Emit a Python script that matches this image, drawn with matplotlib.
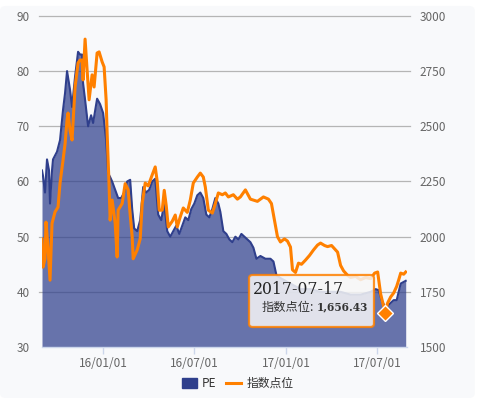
import matplotlib
matplotlib.use('Agg')
import matplotlib.pyplot as plt
from matplotlib.patches import FancyBboxPatch, Patch
from matplotlib.lines import Line2D
import pandas as pd

plt.rcParams['font.family'] = ['Noto Sans CJK SC', 'DejaVu Sans']

# ---------------- data ----------------
pe_dates = [
    '2015-09-01', '2015-09-03', '2015-09-07', '2015-09-11', '2015-09-15', '2015-09-17',
    '2015-09-21', '2015-09-23', '2015-10-01', '2015-10-07', '2015-10-13', '2015-10-17',
    '2015-10-21', '2015-10-27', '2015-10-31', '2015-11-06', '2015-11-12', '2015-11-16',
    '2015-11-20', '2015-11-22', '2015-11-26', '2015-12-02', '2015-12-08', '2015-12-12',
    '2015-12-20', '2015-12-26', '2016-01-01', '2016-01-07', '2016-01-11', '2016-01-15',
    '2016-01-19', '2016-01-25', '2016-01-31', '2016-02-06', '2016-02-12', '2016-02-18',
    '2016-02-24', '2016-02-28', '2016-03-03', '2016-03-09', '2016-03-15', '2016-03-21',
    '2016-03-27', '2016-04-02', '2016-04-08', '2016-04-14', '2016-04-20', '2016-04-26',
    '2016-05-02', '2016-05-08', '2016-05-14', '2016-05-20', '2016-05-26', '2016-06-01',
    '2016-06-07', '2016-06-13', '2016-06-19', '2016-06-25', '2016-07-01', '2016-07-07',
    '2016-07-13', '2016-07-19', '2016-07-25', '2016-07-31', '2016-08-06', '2016-08-12',
    '2016-08-18', '2016-08-22', '2016-08-28', '2016-09-03', '2016-09-09', '2016-09-15',
    '2016-09-21', '2016-09-27', '2016-10-03', '2016-10-09', '2016-10-15', '2016-10-21',
    '2016-10-27', '2016-11-02', '2016-11-10', '2016-11-20', '2016-11-30', '2016-12-06',
    '2016-12-12', '2016-12-20', '2016-12-30', '2017-01-09', '2017-01-19', '2017-01-29',
    '2017-02-18', '2017-03-10', '2017-03-30', '2017-04-19', '2017-05-09', '2017-05-29',
    '2017-06-18', '2017-06-28', '2017-07-04', '2017-07-10', '2017-07-17', '2017-07-22',
    '2017-07-28', '2017-08-03', '2017-08-09', '2017-08-13', '2017-08-17', '2017-08-23',
    '2017-08-27',
]
pe_values = [
    62.0, 61.0, 58.0, 64.0, 62.0, 56.0,
    62.0, 64.0, 65.4, 67.5, 73.0, 76.0,
    80.0, 76.6, 73.5, 79.0, 83.5, 83.0,
    83.0, 77.8, 74.8, 70.0, 72.0, 70.6,
    75.0, 74.0, 72.4, 67.5, 61.5, 60.8,
    60.0, 58.5, 57.0, 57.0, 58.0, 60.0,
    60.3, 55.0, 51.5, 51.0, 53.0, 59.0,
    58.0, 58.5, 60.0, 60.5, 54.0, 53.0,
    56.0, 51.0, 50.0, 51.0, 52.0, 50.5,
    52.0, 53.5, 53.0, 55.0, 56.0, 57.5,
    58.0, 57.0, 54.0, 53.5, 55.0, 57.0,
    56.0, 54.5, 51.0, 50.5, 49.5, 49.0,
    50.0, 49.5, 50.5, 50.0, 49.5, 49.0,
    48.0, 46.0, 46.5, 46.0, 46.0, 45.5,
    43.0, 42.5, 42.0, 41.5, 41.0, 40.5,
    40.5, 40.0, 40.0, 40.0, 39.5, 39.5,
    40.0, 40.5, 40.3, 38.5, 37.2, 37.5,
    38.0, 38.5, 38.5, 40.0, 41.5, 41.8,
    42.0,
]

idx_dates = [
    '2015-09-01', '2015-09-03', '2015-09-07', '2015-09-09', '2015-09-13', '2015-09-17',
    '2015-09-21', '2015-09-27', '2015-10-03', '2015-10-07', '2015-10-13', '2015-10-17',
    '2015-10-21', '2015-10-23', '2015-10-27', '2015-10-31', '2015-11-06', '2015-11-12',
    '2015-11-16', '2015-11-20', '2015-11-22', '2015-11-26', '2015-11-30', '2015-12-04',
    '2015-12-10', '2015-12-14', '2015-12-20', '2015-12-24', '2015-12-30', '2016-01-03',
    '2016-01-07', '2016-01-09', '2016-01-13', '2016-01-15', '2016-01-19', '2016-01-25',
    '2016-01-29', '2016-01-31', '2016-02-08', '2016-02-14', '2016-02-20', '2016-02-24',
    '2016-02-28', '2016-03-01', '2016-03-05', '2016-03-09', '2016-03-15', '2016-03-19',
    '2016-03-25', '2016-03-31', '2016-04-08', '2016-04-14', '2016-04-18', '2016-04-22',
    '2016-04-28', '2016-05-02', '2016-05-06', '2016-05-10', '2016-05-18', '2016-05-24',
    '2016-05-28', '2016-06-03', '2016-06-09', '2016-06-17', '2016-06-23', '2016-06-29',
    '2016-07-07', '2016-07-13', '2016-07-19', '2016-07-23', '2016-07-29', '2016-08-06',
    '2016-08-12', '2016-08-18', '2016-08-26', '2016-09-01', '2016-09-07', '2016-09-17',
    '2016-09-25', '2016-10-01', '2016-10-11', '2016-10-21', '2016-11-04', '2016-11-16',
    '2016-11-26', '2016-12-02', '2016-12-08', '2016-12-14', '2016-12-20', '2016-12-28',
    '2017-01-03', '2017-01-09', '2017-01-13', '2017-01-19', '2017-01-25', '2017-01-31',
    '2017-02-08', '2017-02-16', '2017-02-24', '2017-03-04', '2017-03-10', '2017-03-18',
    '2017-03-24', '2017-04-01', '2017-04-07', '2017-04-13', '2017-04-19', '2017-04-25',
    '2017-05-03', '2017-05-09', '2017-05-19', '2017-05-29', '2017-06-08', '2017-06-18',
    '2017-06-26', '2017-07-02', '2017-07-08', '2017-07-17', '2017-07-22', '2017-07-28',
    '2017-08-03', '2017-08-09', '2017-08-13', '2017-08-17', '2017-08-23', '2017-08-27',
]
idx_values = [
    1990, 1862, 1900, 2066, 1950, 1803,
    2060, 2112, 2134, 2243, 2347, 2420,
    2529, 2560, 2480, 2438, 2678, 2787,
    2800, 2800, 2710, 2895, 2755, 2620,
    2733, 2678, 2832, 2837, 2792, 2769,
    2620, 2470, 2225, 2075, 2166, 2062,
    1908, 2120, 2150, 2240, 2212, 2100,
    2000, 1900, 1920, 1940, 1990, 2150,
    2243, 2230, 2280, 2316, 2250, 2120,
    2120, 2210, 2140, 2044, 2070, 2098,
    2044, 2090, 2130, 2110, 2166, 2243,
    2270, 2288, 2270, 2225, 2120, 2107,
    2150, 2198, 2190, 2198, 2180, 2190,
    2170, 2180, 2212, 2170, 2160, 2180,
    2170, 2150, 2075, 2000, 1976, 1990,
    1980, 1953, 1850, 1838, 1880, 1875,
    1894, 1915, 1940, 1962, 1971, 1960,
    1955, 1960, 1945, 1930, 1870, 1845,
    1825, 1815, 1820, 1805, 1815, 1810,
    1835, 1840, 1740, 1656.43, 1700, 1727,
    1745, 1775, 1804, 1835, 1830, 1840,
]

series_names = ['PE', '指数点位']
tooltip_date = '2017-07-17'
tick_dates = ['2016-01-01', '2016-07-01', '2017-01-01', '2017-07-01']
tick_labels = ['16/01/01', '16/07/01', '17/01/01', '17/07/01']
left_ticks = [30, 40, 50, 60, 70, 80, 90]
right_ticks = [1500, 1750, 2000, 2250, 2500, 2750, 3000]

# ---------------- styles ----------------
NAVY = '#2f3f8c'
ORANGE = '#ff8000'
GRID = '#b5b5b5'
LABEL = '#666666'
BG = '#f8f9fb'

pe_x = pd.to_datetime(pe_dates)
idx_x = pd.to_datetime(idx_dates)

fig = plt.figure(figsize=(4.85, 3.98), dpi=100)
fig.patch.set_facecolor('white')
panel = FancyBboxPatch((0.0, 0.0), 0.979, 0.985,
                       boxstyle='round,pad=0,rounding_size=0.012',
                       transform=fig.transFigure, facecolor=BG,
                       edgecolor='none', zorder=-10)
fig.patches.append(panel)

ax = fig.add_axes([0.0866, 0.128, 0.753, 0.832])
ax.set_facecolor('none')
ax2 = ax.twinx()
ax2.set_facecolor('none')

# grid lines
for v in left_ticks[1:]:
    ax.axhline(v, xmin=-0.008, xmax=1.008, color=GRID, lw=0.9, zorder=0, clip_on=False)

# PE area
ax.fill_between(pe_x, pe_values, left_ticks[0], color=NAVY, alpha=0.72, lw=0, zorder=2)
ax.plot(pe_x, pe_values, color=NAVY, lw=1.5, zorder=3)

# index line
ax2.plot(idx_x, idx_values, color=ORANGE, lw=2.2, zorder=3, solid_joinstyle='round')
ti = idx_dates.index(tooltip_date)
ax2.plot([idx_x[ti]], [idx_values[ti]], marker='D', ms=8.5, mfc=ORANGE,
         mec='white', mew=1.0, zorder=5, clip_on=False)

# axes limits
xmin = pe_x[0]
xmax = pe_x[-1] + pd.Timedelta(days=3)
ax.set_xlim(xmin, xmax)
ax.set_ylim(left_ticks[0], left_ticks[-1])
ax2.set_ylim(right_ticks[0], right_ticks[-1])

ax.set_yticks(left_ticks)
ax2.set_yticks(right_ticks)
ax.set_xticks(pd.to_datetime(tick_dates))
ax.set_xticklabels(tick_labels)

for a in (ax, ax2):
    for s in ('top', 'left', 'right', 'bottom'):
        a.spines[s].set_visible(False)
ax.spines['bottom'].set_visible(True)
ax.spines['bottom'].set_color('#ccd6eb')
ax.spines['bottom'].set_linewidth(1.0)

ax.tick_params(axis='y', length=0, pad=9, labelsize=8.5, labelcolor=LABEL)
ax2.tick_params(axis='y', length=0, pad=9, labelsize=8.5, labelcolor=LABEL)
ax.tick_params(axis='x', length=5, width=1, color='#ccd6eb', pad=2,
               labelsize=8.5, labelcolor=LABEL)

# legend
handles = [Patch(facecolor=NAVY, edgecolor=NAVY, joinstyle='round'),
           Line2D([0], [0], color=ORANGE, lw=2.2)]
leg = fig.legend(handles, series_names, loc='center', bbox_to_anchor=(0.49, 0.036),
                 ncol=2, frameon=False, fontsize=8.5, handlelength=1.3,
                 handleheight=0.9, handletextpad=0.4, columnspacing=0.8)
for t in leg.get_texts():
    t.set_color('#333333')

# tooltip
tip = FancyBboxPatch((0.5134, 0.1784), 0.2577, 0.1307,
                     boxstyle='round,pad=0,rounding_size=0.008',
                     transform=fig.transFigure, facecolor='#f7f7f7', alpha=0.85,
                     edgecolor=ORANGE, lw=1.6, zorder=10)
fig.patches.append(tip)
fig.text(0.5216, 0.2714, tooltip_date, family='DejaVu Serif', fontsize=11.3,
         color='#222222', va='center', ha='left', zorder=11)
fig.text(0.540, 0.2286, series_names[1] + ':', fontsize=8.8, color='#333333',
         va='center', ha='left', zorder=11)
fig.text(0.653, 0.2286, f'{idx_values[ti]:,.2f}', family='DejaVu Serif',
         fontweight='bold', fontsize=7.6, color='#333333', va='center',
         ha='left', zorder=11)

fig.savefig('out.png', dpi=100, facecolor=fig.get_facecolor())
